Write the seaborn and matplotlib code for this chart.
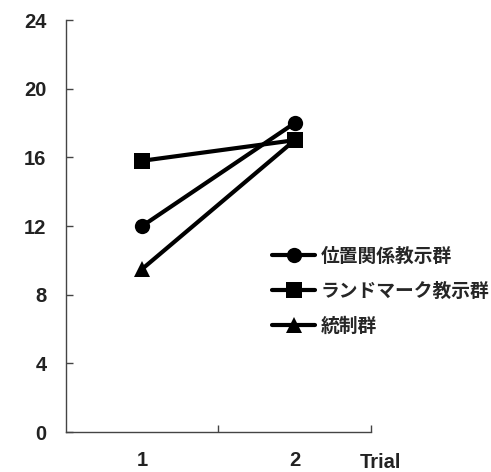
import pandas as pd
import numpy as np
import matplotlib.pyplot as plt
import seaborn as sns

# data
trials = [1, 2]
groups = ['位置関係教示群', 'ランドマーク教示群', '統制群']
position_scores = [12.0, 18.0]
landmark_scores = [15.8, 17.0]
control_scores = [9.5, 17.0]
y_ticks = [0, 4, 8, 12, 16, 20, 24]
x_labels = ['1', '2']

df = pd.DataFrame({
    'trial': trials * 3,
    'score': position_scores + landmark_scores + control_scores,
    'group': [g for g in groups for _ in trials],
})

sns.set_style('white')
plt.rcParams['font.family'] = ['Liberation Sans', 'Noto Sans CJK JP', 'DejaVu Sans']

fig = plt.figure(figsize=(4.91, 4.72), dpi=100)
ax = fig.add_axes([0.1344, 0.0847, 0.6212, 0.8729])

sns.lineplot(data=df, x='trial', y='score', hue='group', style='group',
             hue_order=groups, style_order=groups,
             palette=['black'] * 3, markers=['o', 's', '^'], dashes=False,
             linewidth=3, markersize=11, markeredgewidth=0, ax=ax)

ax.set_xlim(0.5, 2.5)
ax.set_ylim(0, 24)
ax.set_yticks(y_ticks)
ax.set_yticklabels([str(t) for t in y_ticks], fontsize=14.5, fontweight='bold', color='#222222')
ax.set_xticks(trials)
ax.set_xticklabels(x_labels, fontsize=14.5, fontweight='bold', color='#222222')
ax.set_xticks([1.5, 2.5], minor=True)
ax.tick_params(axis='x', which='major', bottom=True, length=0, pad=14)
ax.tick_params(axis='x', which='minor', bottom=True, direction='in', length=5, width=1, color='#444444')
ax.tick_params(axis='y', left=True, direction='in', length=5, width=1, color='#444444', pad=14)
ax.set_xlabel('')
ax.set_ylabel('')
ax.text(0.964, -0.073, 'Trial', transform=ax.transAxes, fontsize=14.5, fontweight='bold',
        color='#222222', ha='left', va='center')

for side in ['top', 'right']:
    ax.spines[side].set_visible(False)
for side in ['left', 'bottom']:
    ax.spines[side].set_color('#444444')
    ax.spines[side].set_linewidth(1)

leg = ax.legend(loc='upper left', bbox_to_anchor=(0.62, 0.49), frameon=False,
                handlelength=2.3, handletextpad=0.3, labelspacing=0.85,
                prop={'family': ['Noto Sans CJK JP'], 'size': 13.5, 'weight': 'bold'})
for h in leg.legend_handles:
    h.set_linewidth(3)
    h.set_markersize(11)

fig.savefig('out.png', dpi=100)
